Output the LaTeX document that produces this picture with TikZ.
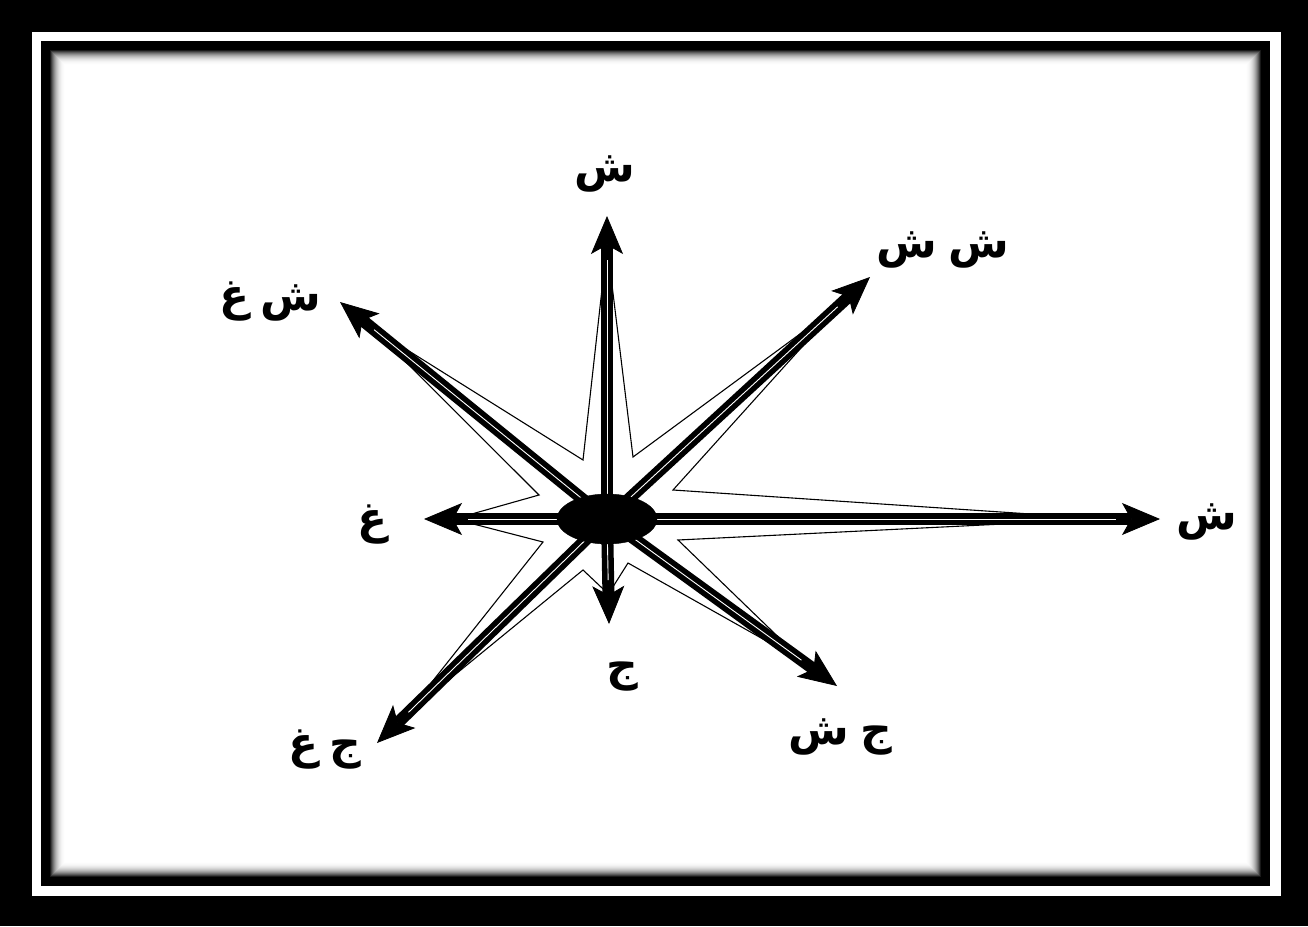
\documentclass[tikz,border=0pt]{standalone}
\usepackage{fontspec}
\newfontfamily\arabicfont[Script=Arabic]{DejaVu Sans}
\TeXXeTstate=1
\usetikzlibrary{arrows.meta,calc,shapes.geometric}
\newcommand\gapR{\hspace{11pt}}
\begin{document}
\begin{tikzpicture}[x=1pt,y=-1pt,
  shaft/.style={line width=12pt,line cap=butt,-{Stealth[length=38pt,width=32pt,inset=9pt,line width=0.8pt]}},
  midline/.style={white,line width=0.9pt},
  starline/.style={draw=black,fill=white,line width=1.1pt,line join=miter},
  lab/.style={font=\arabicfont\bfseries\fontsize{44}{48}\selectfont,inner sep=0pt}]
\useasboundingbox (0,0) rectangle (1308,926);
% frame
\fill[black] (0,0) rectangle (1308,926);
\fill[white] (32,32) rectangle (1281,896);
\fill[black] (41,41) rectangle (1270,886);
\foreach \i in {0,...,16}{
  \pgfmathsetmacro\p{90*(1-\i/16)^2.5}
  \fill[black!\p] (50+\i,50+\i) rectangle (1261-\i,877-\i);
}
% centre and tips
\coordinate (o) at (607,519);
\coordinate (tN) at (607,216);
\coordinate (tNE) at (870,277);
\coordinate (tE) at (1160,519);
\coordinate (tSE) at (837,686);
\coordinate (tS) at (609,624);
\coordinate (tSW) at (377,743);
\coordinate (tW) at (424,519);
\coordinate (tNW) at (340,302);
% inner star vertices
\coordinate (iNNE) at (633,457);
\coordinate (iNEE) at (673,490);
\coordinate (iESE) at (678,540);
\coordinate (iSSE) at (628,563);
\coordinate (iSSW) at (583,570);
\coordinate (iWSW) at (543,542);
\coordinate (iWNW) at (539,495);
\coordinate (iNNW) at (583,460);
% star outline
\draw[starline] ($(tN)!28pt!(o)$) -- (iNNE) -- ($(tNE)!40pt!(o)$) -- (iNEE)
  -- ($(tE)!55pt!(o)$) -- (iESE) -- ($(tSE)!40pt!(o)$) -- (iSSE)
  -- ($(tS)!30pt!(o)$) -- (iSSW) -- ($(tSW)!40pt!(o)$) -- (iWSW)
  -- ($(tW)!30pt!(o)$) -- (iWNW) -- ($(tNW)!40pt!(o)$) -- (iNNW) -- cycle;
% arrows
\foreach \t in {tN,tNE,tE,tSE,tS,tSW,tW,tNW}{
  \draw[shaft] (o) -- (\t);
  \draw[midline] (o) -- ($(\t)!44pt!(o)$);
}
\node[ellipse,fill=black,draw=black,minimum width=100pt,minimum height=50pt,inner sep=0pt] (c) at (o) {};
% labels
\node[lab] (lN) at (605,174) {\beginR ش\endR};
\node[lab] (lNE) at (943,250) {\beginR ش\gapR ش\endR};
\node[lab] (lE) at (1207,522) {\beginR ش\endR};
\node[lab] (lSE) at (840,737) {\beginR ج\gapR ش\endR};
\node[lab] (lS) at (622,677) {\beginR ج\endR};
\node[lab] (lSW) at (325,750) {\beginR ج\gapR غ\endR};
\node[lab] (lW) at (373,525) {\beginR غ\endR};
\node[lab] (lNW) at (270,302) {\beginR ش\gapR غ\endR};
\end{tikzpicture}
\end{document}
